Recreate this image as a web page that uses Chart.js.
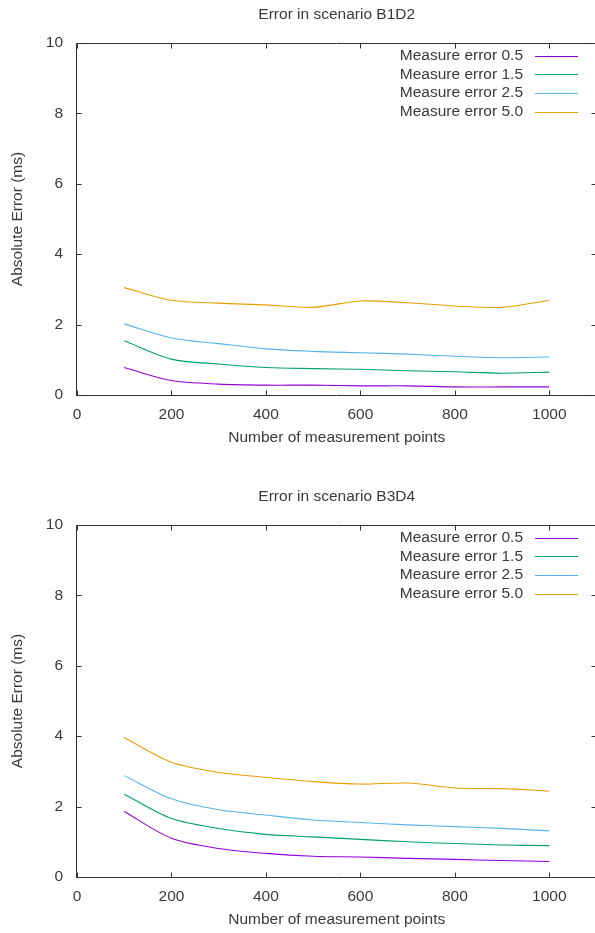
<!DOCTYPE html>
<html>
<head>
<meta charset="utf-8">
<script src="https://cdn.jsdelivr.net/npm/chart.js@4/dist/chart.umd.min.js"></script>
<style>
  html, body { margin: 0; padding: 0; background: #ffffff; }
  #page { position: relative; width: 595px; height: 933px; overflow: hidden; background: #fff; }
  .box { position: absolute; left: 0; width: 598px; height: 451px; }
  canvas { display: block; }
</style>
</head>
<body>
<div id="page">
  <div class="box" style="top:0px"><canvas id="c1" width="598" height="451"></canvas></div>
  <div class="box" style="top:482px"><canvas id="c2" width="598" height="451"></canvas></div>
</div>
<script>
// ---- data ----
const measurementPoints = [100, 200, 300, 400, 500, 600, 700, 800, 900, 1000];
const seriesLabels = ['Measure error 0.5', 'Measure error 1.5', 'Measure error 2.5', 'Measure error 5.0'];
const seriesColors = ['#9400d3', '#009e73', '#56b4e9', '#e69f00'];
const chartTitles = ['Error in scenario B1D2', 'Error in scenario B3D4'];
const xAxisTitle = 'Number of measurement points';
const yAxisTitle = 'Absolute Error (ms)';

const b1d2Err05 = [0.78, 0.41, 0.31, 0.28, 0.28, 0.26, 0.26, 0.23, 0.23, 0.23];
const b1d2Err15 = [1.54, 1.02, 0.88, 0.78, 0.75, 0.73, 0.69, 0.66, 0.62, 0.65];
const b1d2Err25 = [2.02, 1.62, 1.46, 1.31, 1.24, 1.20, 1.16, 1.10, 1.06, 1.08];
const b1d2Err50 = [3.05, 2.69, 2.61, 2.56, 2.49, 2.67, 2.62, 2.53, 2.49, 2.69];

const b3d4Err05 = [1.86, 1.10, 0.81, 0.67, 0.59, 0.57, 0.53, 0.50, 0.47, 0.44];
const b3d4Err15 = [2.35, 1.66, 1.38, 1.21, 1.14, 1.07, 1.00, 0.95, 0.91, 0.89];
const b3d4Err25 = [2.88, 2.22, 1.91, 1.76, 1.62, 1.55, 1.48, 1.43, 1.38, 1.31];
const b3d4Err50 = [3.96, 3.26, 2.97, 2.83, 2.71, 2.64, 2.67, 2.53, 2.51, 2.44];

const xMin = 0, xMax = 1100, xStep = 200;
const yMin = 0, yMax = 10, yStep = 2;

// ---- styling ----
const FONT = '"Liberation Sans", Arial, sans-serif';
const FSIZE = 15.5;
const TEXT = '#3a3a3a';
const AXIS = '#333333';

const framePlugin = {
  id: 'gpFrame',
  afterDatasetsDraw(chart) {
    const ctx = chart.ctx, a = chart.chartArea;
    const xs = chart.scales.x, ys = chart.scales.y;
    const L = Math.round(a.left) - 0.5, R = Math.round(a.right) - 0.5;
    const T = Math.round(a.top) + 0.5, B = Math.round(a.bottom) + 0.5;
    const tl = 5;
    ctx.save();
    ctx.strokeStyle = AXIS;
    ctx.lineWidth = 1;
    ctx.beginPath();
    ctx.rect(L, T, R - L, B - T);
    ys.ticks.forEach(t => {
      const py = Math.round(ys.getPixelForValue(t.value)) + 0.5;
      ctx.moveTo(L, py); ctx.lineTo(L + tl, py);
      ctx.moveTo(R, py); ctx.lineTo(R - tl, py);
    });
    xs.ticks.forEach(t => {
      const px = Math.round(xs.getPixelForValue(t.value)) + 0.5;
      ctx.moveTo(px, B); ctx.lineTo(px, B - tl);
      ctx.moveTo(px, T); ctx.lineTo(px, T + tl);
    });
    ctx.stroke();

    // legend (gnuplot style: text right-aligned, sample line to its right)
    ctx.font = FSIZE + 'px ' + FONT;
    ctx.textAlign = 'right';
    ctx.textBaseline = 'middle';
    chart.data.datasets.forEach((ds, i) => {
      const y = a.top + 12.7 + i * 18.7;
      ctx.fillStyle = TEXT;
      ctx.fillText(ds.label, a.right - 73.5, y);
      ctx.strokeStyle = ds.borderColor;
      ctx.beginPath();
      const ly = Math.round(y) + 0.5;
      ctx.moveTo(a.right - 61.5, ly);
      ctx.lineTo(a.right - 18.5, ly);
      ctx.stroke();
    });
    ctx.restore();
  }
};

function makeChart(id, title, seriesList) {
  const datasets = seriesList.map((vals, i) => ({
    label: seriesLabels[i],
    data: measurementPoints.map((x, k) => ({ x: x, y: vals[k] })),
    borderColor: seriesColors[i],
    backgroundColor: seriesColors[i],
    borderWidth: 1.1,
    pointRadius: 0,
    tension: 0.3,
    fill: false
  }));
  return new Chart(document.getElementById(id), {
    type: 'line',
    data: { datasets },
    plugins: [framePlugin],
    options: {
      responsive: false,
      animation: false,
      devicePixelRatio: 1,
      layout: { padding: { top: 0, right: 1.5, bottom: 0, left: 0 } },
      plugins: {
        legend: { display: false },
        tooltip: { enabled: false },
        title: {
          display: true,
          text: title,
          fullSize: false,
          color: TEXT,
          font: { family: FONT, size: FSIZE, weight: 'normal' },
          padding: { top: 5.7, bottom: 18.7 }
        }
      },
      scales: {
        x: {
          type: 'linear',
          min: xMin, max: xMax,
          grid: { display: false, drawTicks: false },
          border: { display: false },
          ticks: {
            stepSize: xStep,
            includeBounds: false,
            color: TEXT,
            padding: 10,
            maxRotation: 0,
            font: { family: FONT, size: FSIZE },
            callback: (v) => String(v)
          },
          title: {
            display: true,
            text: xAxisTitle,
            color: TEXT,
            font: { family: FONT, size: FSIZE },
            padding: { top: 0, bottom: 3.7 }
          },
          afterFit(scale) { scale.height = 56; }
        },
        y: {
          type: 'linear',
          min: yMin, max: yMax,
          grid: { display: false, drawTicks: false },
          border: { display: false },
          ticks: {
            stepSize: yStep,
            color: TEXT,
            padding: 14,
            font: { family: FONT, size: FSIZE },
            callback: (v) => String(v)
          },
          title: {
            display: true,
            text: yAxisTitle,
            color: TEXT,
            font: { family: FONT, size: FSIZE },
            padding: { top: 8, bottom: 0 }
          },
          afterFit(scale) { scale.width = 77; }
        }
      }
    }
  });
}

makeChart('c1', chartTitles[0], [b1d2Err05, b1d2Err15, b1d2Err25, b1d2Err50]);
makeChart('c2', chartTitles[1], [b3d4Err05, b3d4Err15, b3d4Err25, b3d4Err50]);
</script>
</body>
</html>
